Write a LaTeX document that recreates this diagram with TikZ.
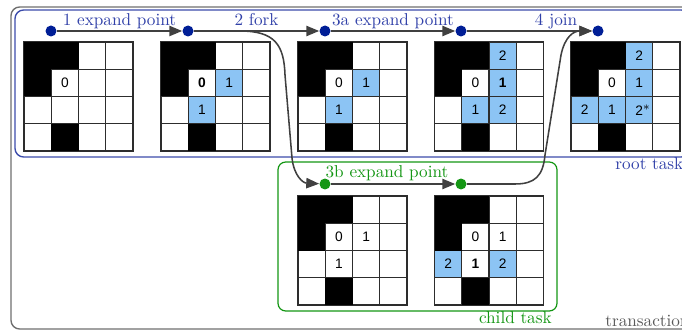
\documentclass[tikz,border=0pt]{standalone}
\usepackage{fontspec}
\newfontfamily\cellfont{Liberation Sans}
\usetikzlibrary{arrows.meta}
\definecolor{dotblue}{RGB}{0,30,150}
\definecolor{lblblue}{RGB}{48,64,168}
\definecolor{boxblue}{RGB}{60,76,170}
\definecolor{grn}{RGB}{20,150,20}
\definecolor{cellblue}{RGB}{140,196,244}
\definecolor{arrgray}{RGB}{64,64,64}
\definecolor{boxgray}{RGB}{110,110,110}
\definecolor{gridgray}{RGB}{45,45,45}
\newcommand\cs{27.25}
\tikzset{
 cell/.style={minimum width=15.86pt, minimum height=15.86pt, inner sep=0pt, font=\cellfont\fontsize{8}{9}\selectfont, text=black},
 blk/.style={fill=black},
 blu/.style={fill=cellblue},
 wht/.style={},
 gline/.style={draw=gridgray, line width=0.7pt},
 pt/.style={circle, fill=dotblue, minimum size=6.4pt, inner sep=0pt},
 gpt/.style={pt, fill=grn},
 flow/.style={draw=arrgray, line width=0.9pt, -{Triangle[length=7.5pt,width=6pt]}},
 lbl/.style={text=lblblue, anchor=base},
 glbl/.style={text=grn, anchor=base},
}
% name, row, col, style, text
\newcommand\gc[5]{\node[cell,#4] (#1) at ({(#3+0.5)*\cs},{(#2+0.5)*\cs}) {#5};}
\newcommand\glines{%
 \foreach \i in {1,2,3}{\draw[gline] (\i*\cs,0) -- (\i*\cs,4*\cs); \draw[gline] (0,\i*\cs) -- (4*\cs,\i*\cs);}
 \draw[gline] (0,0) rectangle (4*\cs,4*\cs);}
\newcommand\blacks[1]{\gc{#1-00}{0}{0}{blk}{}\gc{#1-01}{0}{1}{blk}{}\gc{#1-10}{1}{0}{blk}{}\gc{#1-31}{3}{1}{blk}{}}
\begin{document}
\begin{tikzpicture}[x=0.582pt,y=-0.582pt]
\useasboundingbox (0,0) rectangle (682,332);
\clip (0,0) rectangle (682,332);
% frames
\draw[boxgray, line width=0.8pt, rounded corners=5pt] (11,7) rectangle (700,329);
\draw[boxblue, line width=0.8pt, rounded corners=5pt] (15,10) rectangle (690,157);
\draw[grn, line width=0.7pt, rounded corners=4.5pt] (278,162) rectangle (557,311);
% grid 1
\begin{scope}[shift={(24,42)}]
 \glines \blacks{g1}
 \gc{g1-11}{1}{1}{wht}{0}
\end{scope}
% grid 2
\begin{scope}[shift={(161,42)}]
 \gc{g2-12}{1}{2}{blu}{1}
 \gc{g2-21}{2}{1}{blu}{1}
 \glines \blacks{g2}
 \gc{g2-11}{1}{1}{wht}{\textbf{0}}
\end{scope}
% grid 3
\begin{scope}[shift={(298,42)}]
 \gc{g3-12}{1}{2}{blu}{1}
 \gc{g3-21}{2}{1}{blu}{1}
 \glines \blacks{g3}
 \gc{g3-11}{1}{1}{wht}{0}
\end{scope}
% grid 4
\begin{scope}[shift={(434.5,42)}]
 \gc{g4-02}{0}{2}{blu}{2}
 \gc{g4-12}{1}{2}{blu}{\textbf{1}}
 \gc{g4-21}{2}{1}{blu}{1}
 \gc{g4-22}{2}{2}{blu}{2}
 \glines \blacks{g4}
 \gc{g4-11}{1}{1}{wht}{0}
\end{scope}
% grid 5
\begin{scope}[shift={(571,42)}]
 \gc{g5-02}{0}{2}{blu}{2}
 \gc{g5-12}{1}{2}{blu}{1}
 \gc{g5-20}{2}{0}{blu}{2}
 \gc{g5-21}{2}{1}{blu}{1}
 \gc{g5-22}{2}{2}{blu}{2\rlap{\raisebox{0.4em}{\fontsize{7.5}{8}\selectfont$\ast$}}}
 \glines \blacks{g5}
 \gc{g5-11}{1}{1}{wht}{0}
\end{scope}
% child grid 1
\begin{scope}[shift={(298,196)}]
 \glines \blacks{c1}
 \gc{c1-11}{1}{1}{wht}{0}
 \gc{c1-12}{1}{2}{wht}{1}
 \gc{c1-21}{2}{1}{wht}{1}
\end{scope}
% child grid 2
\begin{scope}[shift={(434.5,196)}]
 \gc{c2-20}{2}{0}{blu}{2}
 \gc{c2-22}{2}{2}{blu}{2}
 \glines \blacks{c2}
 \gc{c2-11}{1}{1}{wht}{0}
 \gc{c2-12}{1}{2}{wht}{1}
 \gc{c2-21}{2}{1}{wht}{\textbf{1}}
\end{scope}
% points
\node[pt] (d1) at (51,31) {};
\node[pt] (d2) at (188,31) {};
\node[pt] (d3) at (325,31) {};
\node[pt] (d4) at (461,31) {};
\node[pt] (d5) at (598,31) {};
\node[gpt] (e1) at (325,184) {};
\node[gpt] (e2) at (461,184) {};
% connectors
\draw[flow] (d1) -- (d2);
\draw[flow] (d2) -- (d3);
\draw[flow] (d3) -- (d4);
\draw[flow] (d4) -- (d5);
\draw[flow] (e1) -- (e2);
\draw[flow] (d2.east) -- (240,31) .. controls (275,31) and (284,45) .. (285,75) -- (292,158) .. controls (294,176) and (303,183) .. (e1);
\draw[flow] (e2.east) -- (515,184) .. controls (535,184) and (543,176) .. (545,155) -- (561,55) .. controls (565,36) and (574,31) .. (d5);
% labels
\node[lbl] (l1) at (119.5,26) {1 expand point};
\node[lbl] (l2) at (256.5,26) {2 fork};
\node[lbl] (l3a) at (393,26) {3a expand point};
\node[lbl] (l4) at (556,26) {4 join};
\node[glbl] (l3b) at (387,177) {3b expand point};
\node[text=lblblue, anchor=base west, inner sep=0pt] (lroot) at (615,170) {root task};
\node[text=grn, anchor=base east, inner sep=0pt] (lchild) at (552,323) {child task};
\node[text=black!65, anchor=base west, inner sep=0pt] (ltrans) at (605,326) {transaction};
\end{tikzpicture}
\end{document}
